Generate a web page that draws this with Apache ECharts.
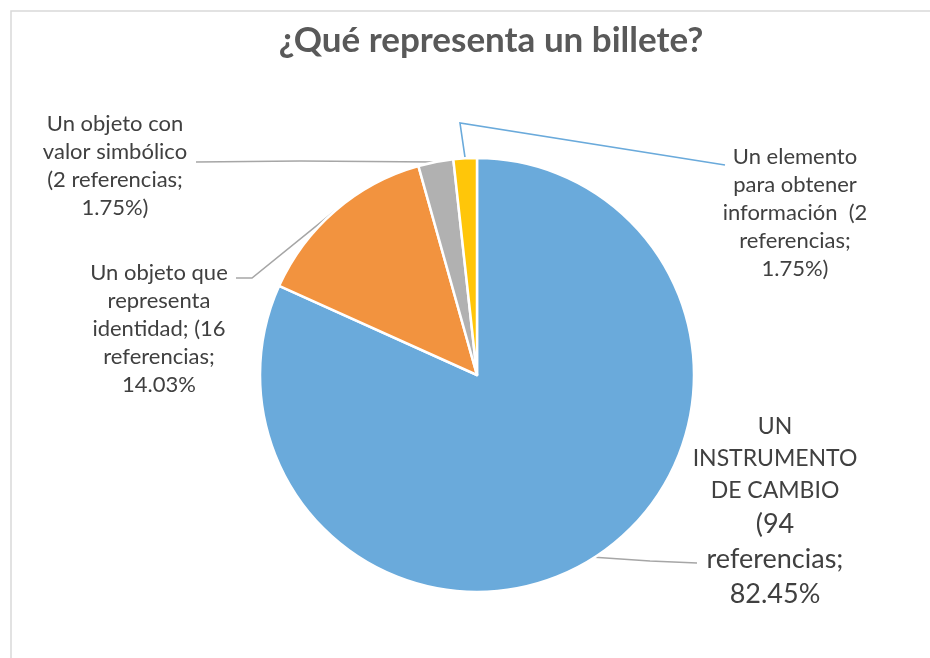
<!DOCTYPE html>
<html>
<head>
<meta charset="utf-8">
<script src="https://cdn.jsdelivr.net/npm/echarts@6/dist/echarts.min.js"></script>
<style>
html,body{margin:0;padding:0;background:#fff;}
#chart{width:930px;height:658px;}
</style>
</head>
<body>
<div id="chart"></div>
<script>
const titleText = '¿Qué representa un billete?';
const categories = ['UN INSTRUMENTO DE CAMBIO', 'Un objeto que representa identidad', 'Un objeto con valor simbólico', 'Un elemento para obtener información'];
// slice sizes as drawn in the picture
const values = [94, 16, 3, 2];
// counts and percentages as typed in the picture's labels
const labelCounts = ['94', '16', '2', '2'];
const percentLabels = ['82.45%', '14.03%', '1.75%', '1.75%'];
const colors = ['#6AAADB', '#F2933F', '#B1B1B1', '#FFC609'];
const lineColors = ['#A6A6A6', '#A6A6A6', '#A6A6A6', '#6AAADB'];

function labelText(i) {
  const v = labelCounts[i], p = percentLabels[i];
  if (i === 0) return '{a|UN}\n{a|INSTRUMENTO}\n{a|DE CAMBIO}\n{b|(' + v + '}\n{b|referencias;}\n{b|' + p + '}';
  if (i === 1) return 'Un objeto que\nrepresenta\nidentidad; (' + v + '\nreferencias;\n' + p;
  if (i === 2) return 'Un objeto con\nvalor simbólico\n(' + v + ' referencias;\n' + p + ')';
  return 'Un elemento\npara obtener\ninformación  (' + v + '\nreferencias;\n' + p + ')';
}

// label block centres and leader-line bends (layout only)
const labelLayouts = [
  { x: 775, y: 511, pts: [[650, 561], [697, 563]] },
  { x: 159, y: 329, pts: [[252, 278], [236, 278]] },
  { x: 115, y: 166, pts: [[300, 161], [196, 162]] },
  { x: 795, y: 213, pts: [[460, 123], [725, 165]] }
];

const chart = echarts.init(document.getElementById('chart'), null, { renderer: 'canvas' });
const FONT = 'Lato, "Open Sans", sans-serif';

chart.setOption({
  animation: false,
  backgroundColor: '#ffffff',
  title: {
    text: titleText,
    left: 486,
    textAlign: 'center',
    top: 18,
    textStyle: { fontFamily: FONT, fontSize: 35, fontWeight: 'bold', color: '#595959' }
  },
  graphic: [{
    type: 'rect',
    shape: { x: 11, y: 11, width: 950, height: 680 },
    style: { fill: 'none', stroke: '#D9D9D9', lineWidth: 1.5 },
    silent: true
  }],
  series: [{
    type: 'pie',
    center: [477, 375],
    radius: 217,
    startAngle: 90,
    clockwise: true,
    avoidLabelOverlap: false,
    itemStyle: { borderColor: '#ffffff', borderWidth: 2.5 },
    data: categories.map((name, i) => ({
      name: name,
      value: values[i],
      itemStyle: { color: colors[i] },
      labelLine: { lineStyle: { color: lineColors[i], width: 1.6 } }
    })),
    label: {
      show: true,
      position: 'outside',
      formatter: p => labelText(p.dataIndex),
      fontFamily: FONT,
      fontSize: 22,
      lineHeight: 28,
      color: '#404040',
      align: 'center',
      rich: {
        a: { fontFamily: FONT, fontSize: 23, lineHeight: 32, color: '#404040', align: 'center' },
        b: { fontFamily: FONT, fontSize: 27, lineHeight: 35, color: '#404040', align: 'center' }
      }
    },
    labelLine: { show: true, length: 20, length2: 20, smooth: false },
    labelLayout: function (params) {
      const L = labelLayouts[params.dataIndex];
      const start = params.labelLinePoints ? params.labelLinePoints[0] : [477, 375];
      return {
        x: L.x,
        y: L.y,
        align: 'center',
        verticalAlign: 'middle',
        labelLinePoints: [start, L.pts[0], L.pts[1]]
      };
    }
  }]
});
</script>
</body>
</html>
